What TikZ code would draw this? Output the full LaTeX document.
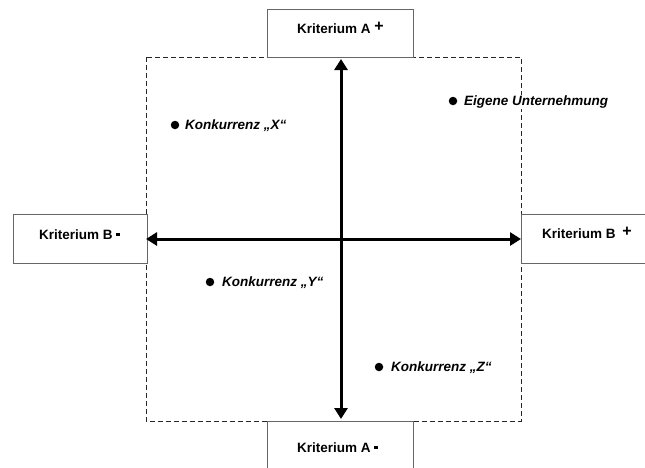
\documentclass[tikz,border=0pt]{standalone}
\usepackage{fontspec}
\setmainfont{Liberation Sans}
\usetikzlibrary{arrows.meta}
\newcommand{\minusbar}{\raisebox{3pt}{\rule{4pt}{2.6pt}}}
\newcommand{\plussign}{\raisebox{1.5pt}{\fontsize{16}{16}\selectfont\bfseries+}}
\begin{document}
\begin{tikzpicture}[x=1pt,y=-1pt,
  critbox/.style={draw=black!60,line width=0.9pt,fill=white,inner sep=0pt},
  crittext/.style={font=\fontsize{13.5}{15}\selectfont\bfseries,anchor=base west,inner sep=0pt},
  comptext/.style={font=\fontsize{13.5}{15}\selectfont\bfseries\itshape,anchor=west,inner sep=1pt,fill=white},
  dot/.style={circle,fill=black,inner sep=0pt,minimum size=8.5pt},
  axis/.style={line width=3pt,{Triangle[width=13pt,length=11pt]}-{Triangle[width=13pt,length=11pt]}},
  frame/.style={draw=black!85,line width=0.8pt,dash pattern=on 5pt off 3pt}]
\useasboundingbox (0,0) rectangle (645,467);
\clip (0,0) rectangle (645,467);

% dashed frame of the positioning field
\draw[frame] (146,57) rectangle (521,421);

% criterion boxes around the field
\node[critbox,minimum width=146pt,minimum height=48pt] (boxN) at (340,33) {};
\node[critbox,minimum width=146pt,minimum height=60pt] (boxS) at (340,451) {};
\node[critbox,minimum width=134pt,minimum height=49pt] (boxW) at (80,238.5) {};
\node[critbox,minimum width=140pt,minimum height=49pt] (boxE) at (591,238.5) {};

\node[crittext] (labN) at (297,33) {Kriterium A \plussign};
\node[crittext] (labS) at (297,452) {Kriterium A \minusbar};
\node[crittext] (labW) at (39,239) {Kriterium B \minusbar};
\node[crittext] (labE) at (542,238) {Kriterium B \hspace{3pt}\plussign};

% axes
\coordinate (axN) at (341,59);
\coordinate (axS) at (341,419);
\coordinate (axW) at (146,239);
\coordinate (axE) at (521,239);
\draw[axis] (axS) -- (axN);
\draw[axis] (axW) -- (axE);

% competitors
\node[dot] (dX) at (175,125) {};
\node[comptext] (tX) at (184,126) {Konkurrenz „X“};
\node[dot] (dU) at (453,101) {};
\node[comptext] (tU) at (463,102) {Eigene Unternehmung};
\node[dot] (dY) at (210,282) {};
\node[comptext] (tY) at (221,283) {Konkurrenz „Y“};
\node[dot] (dZ) at (379,367) {};
\node[comptext] (tZ) at (390,368) {Konkurrenz „Z“};
\end{tikzpicture}
\end{document}
